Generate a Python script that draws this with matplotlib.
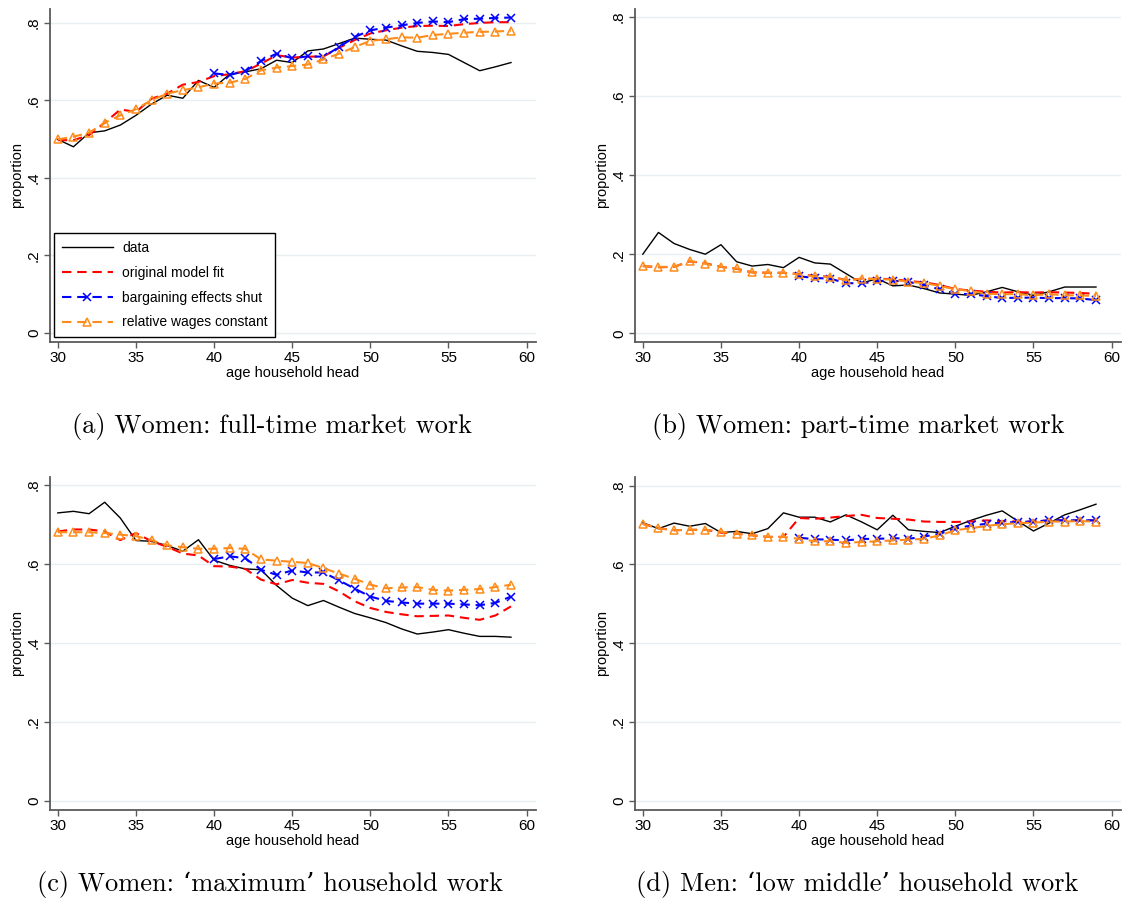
import matplotlib
matplotlib.use("Agg")
import matplotlib.pyplot as plt
import numpy as np

plt.rcParams['font.family'] = ['Liberation Sans', 'DejaVu Sans']

age = list(range(30, 60))
age_cf = list(range(40, 60))

# women full-time market work
ft_data = [0.499, 0.480, 0.516, 0.521, 0.536, 0.561, 0.590, 0.613, 0.605, 0.651,
           0.633, 0.667, 0.673, 0.681, 0.703, 0.697, 0.727, 0.732, 0.746, 0.760,
           0.757, 0.755, 0.740, 0.726, 0.723, 0.718, 0.697, 0.676, 0.686, 0.697]
ft_model = [0.497, 0.497, 0.510, 0.542, 0.576, 0.570, 0.604, 0.617, 0.640, 0.647,
            0.662, 0.667, 0.675, 0.694, 0.716, 0.710, 0.712, 0.713, 0.735, 0.755,
            0.772, 0.780, 0.787, 0.791, 0.792, 0.791, 0.796, 0.799, 0.801, 0.801]
ft_barg = [0.669, 0.665, 0.675, 0.701, 0.720, 0.708, 0.713, 0.712, 0.737, 0.763,
           0.780, 0.787, 0.793, 0.799, 0.803, 0.801, 0.809, 0.810, 0.812, 0.813]
ft_wage = [0.499, 0.506, 0.516, 0.542, 0.561, 0.577, 0.600, 0.617, 0.626, 0.633,
           0.643, 0.645, 0.655, 0.677, 0.684, 0.688, 0.692, 0.705, 0.720, 0.737,
           0.753, 0.757, 0.762, 0.761, 0.768, 0.771, 0.774, 0.776, 0.777, 0.779]

# women part-time market work
pt_data = [0.200, 0.255, 0.227, 0.212, 0.200, 0.224, 0.181, 0.170, 0.174, 0.166,
           0.192, 0.178, 0.175, 0.151, 0.127, 0.138, 0.120, 0.122, 0.113, 0.102,
           0.099, 0.096, 0.105, 0.116, 0.105, 0.096, 0.105, 0.117, 0.117, 0.117]
pt_model = [0.170, 0.167, 0.168, 0.182, 0.177, 0.168, 0.163, 0.154, 0.153, 0.153,
            0.150, 0.145, 0.143, 0.135, 0.138, 0.138, 0.137, 0.132, 0.129, 0.122,
            0.112, 0.108, 0.105, 0.103, 0.104, 0.103, 0.104, 0.103, 0.102, 0.100]
pt_barg = [0.144, 0.140, 0.138, 0.127, 0.126, 0.132, 0.133, 0.130, 0.122, 0.111,
           0.100, 0.099, 0.094, 0.089, 0.090, 0.090, 0.089, 0.089, 0.088, 0.084]
pt_wage = [0.170, 0.168, 0.168, 0.183, 0.176, 0.168, 0.164, 0.154, 0.153, 0.153,
           0.149, 0.144, 0.143, 0.134, 0.138, 0.137, 0.136, 0.130, 0.127, 0.120,
           0.111, 0.107, 0.100, 0.099, 0.099, 0.096, 0.099, 0.096, 0.096, 0.094]

# women 'maximum' household work
hw_data = [0.729, 0.733, 0.727, 0.756, 0.716, 0.659, 0.657, 0.646, 0.632, 0.661,
           0.609, 0.596, 0.587, 0.585, 0.545, 0.513, 0.494, 0.507, 0.490, 0.474,
           0.463, 0.451, 0.435, 0.422, 0.427, 0.433, 0.424, 0.416, 0.416, 0.414]
hw_model = [0.682, 0.687, 0.687, 0.682, 0.660, 0.678, 0.657, 0.643, 0.626, 0.621,
            0.594, 0.593, 0.587, 0.560, 0.548, 0.559, 0.552, 0.549, 0.530, 0.505,
            0.488, 0.478, 0.472, 0.467, 0.468, 0.469, 0.463, 0.458, 0.469, 0.492]
hw_barg = [0.612, 0.619, 0.614, 0.585, 0.572, 0.583, 0.578, 0.578, 0.558, 0.537,
           0.517, 0.506, 0.502, 0.499, 0.499, 0.499, 0.497, 0.495, 0.501, 0.517]
hw_wage = [0.680, 0.680, 0.680, 0.678, 0.674, 0.670, 0.660, 0.647, 0.642, 0.638,
           0.638, 0.640, 0.638, 0.611, 0.608, 0.605, 0.602, 0.589, 0.575, 0.562,
           0.547, 0.538, 0.540, 0.541, 0.534, 0.532, 0.534, 0.536, 0.541, 0.547]

# men 'low middle' household work
mh_data = [0.706, 0.691, 0.705, 0.697, 0.704, 0.681, 0.684, 0.678, 0.691, 0.731,
           0.720, 0.720, 0.708, 0.726, 0.708, 0.688, 0.725, 0.688, 0.684, 0.681,
           0.697, 0.712, 0.725, 0.736, 0.710, 0.685, 0.705, 0.726, 0.739, 0.753]
mh_model = [0.703, 0.692, 0.687, 0.688, 0.688, 0.681, 0.678, 0.674, 0.670, 0.670,
            0.718, 0.716, 0.719, 0.723, 0.726, 0.718, 0.716, 0.714, 0.709, 0.708,
            0.708, 0.709, 0.712, 0.710, 0.709, 0.709, 0.712, 0.712, 0.712, 0.712]
mh_barg = [0.668, 0.664, 0.663, 0.661, 0.665, 0.665, 0.667, 0.665, 0.671, 0.678,
           0.691, 0.699, 0.703, 0.706, 0.708, 0.709, 0.712, 0.712, 0.712, 0.712]
mh_wage = [0.703, 0.692, 0.687, 0.688, 0.688, 0.683, 0.678, 0.674, 0.670, 0.670,
           0.665, 0.659, 0.659, 0.655, 0.657, 0.659, 0.661, 0.663, 0.665, 0.674,
           0.687, 0.692, 0.698, 0.702, 0.705, 0.706, 0.709, 0.709, 0.710, 0.709]

captions = ["(a) Women: full-time market work",
            "(b) Women: part-time market work",
            "(c) Women: \u2018maximum\u2019 household work",
            "(d) Men: \u2018low middle\u2019 household work"]

W, H = 1126, 908
fig = plt.figure(figsize=(W / 100, H / 100), dpi=100)

# axes boxes in pixels: left, top, right, bottom
boxes = [(50, 9, 536, 342), (635, 9, 1121, 342),
         (50, 477, 536, 810), (635, 477, 1121, 810)]
ylims = [(-0.023, 0.835), (-0.022, 0.820), (-0.024, 0.820), (-0.023, 0.822)]
panels = [(ft_data, ft_model, ft_barg, ft_wage),
          (pt_data, pt_model, pt_barg, pt_wage),
          (hw_data, hw_model, hw_barg, hw_wage),
          (mh_data, mh_model, mh_barg, mh_wage)]
cap_pos = [(272, 426), (858, 426), (270, 885), (857, 885)]

spine_col = '#5a5a5a'
grid_col = '#e8eff1'
orange = '#ff8c1a'
dash = (0, (4.5, 2.8))

for i, (box, yl, series, title, cp) in enumerate(zip(boxes, ylims, panels, captions, cap_pos)):
    l, t, r, b = box
    ax = fig.add_axes([l / W, 1 - b / H, (r - l) / W, (b - t) / H])
    d, m, bg, wg = series
    ax.plot(age, d, color='black', lw=1.0, label='data', zorder=3)
    ax.plot(age, m, color='red', lw=1.5, ls=dash, label='original model fit', zorder=4)
    ax.plot(age_cf, bg, color='blue', lw=1.5, ls=dash, marker='x', ms=6,
            mew=1.1, label='bargaining effects shut', zorder=5)
    ax.plot(age, wg, color=orange, lw=1.5, ls=dash, marker='^', ms=5.5,
            mfc='none', mec=orange, mew=1.1, label='relative wages constant', zorder=6)

    ax.set_xlim(29.5, 60.6)
    ax.set_ylim(*yl)
    ax.set_xticks([30, 35, 40, 45, 50, 55, 60])
    ax.set_yticks([0, 0.2, 0.4, 0.6, 0.8])
    ax.set_yticklabels(['0', '.2', '.4', '.6', '.8'], rotation=90, va='center')
    ax.tick_params(labelsize=11, length=4, width=1, color=spine_col, pad=2.5)
    ax.yaxis.grid(True, color=grid_col, lw=1)
    ax.set_axisbelow(True)
    for s in ['top', 'right']:
        ax.spines[s].set_visible(False)
    for s in ['left', 'bottom']:
        ax.spines[s].set_color(spine_col)
        ax.spines[s].set_linewidth(1.3)
    ax.set_ylabel('proportion', fontsize=10.5, labelpad=2)
    ax.set_xlabel('age household head', fontsize=10.5, labelpad=1)

    if i == 0:
        leg = ax.legend(loc='lower left', bbox_to_anchor=(0.008, 0.015), borderaxespad=0,
                        fontsize=10, numpoints=1, handlelength=3.7, handletextpad=0.65,
                        labelspacing=0.78, borderpad=0.55, fancybox=False,
                        edgecolor='black', framealpha=1)
        leg.get_frame().set_linewidth(1.0)

    fig.text(cp[0] / W, 1 - cp[1] / H, title, ha='center', va='center',
             fontsize=19, family=['cmr10', 'DejaVu Serif'])

fig.savefig('out.png', dpi=100)
